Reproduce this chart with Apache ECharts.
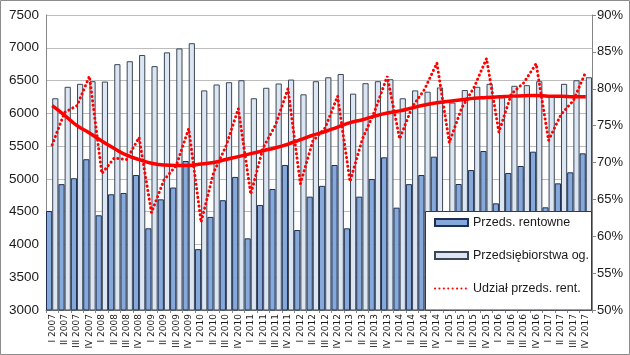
<!DOCTYPE html>
<html>
<head>
<meta charset="utf-8">
<script src="https://cdn.jsdelivr.net/npm/echarts@6/dist/echarts.min.js"></script>
<style>
html,body{margin:0;padding:0;background:#fff;}
#c{width:630px;height:355px;}
</style>
</head>
<body>
<div id="c"></div>
<script>
const categories = [
  "I 2007","II 2007","III 2007","IV 2007",
  "I 2008","II 2008","III 2008","IV 2008",
  "I 2009","II 2009","III 2009","IV 2009",
  "I 2010","II 2010","III 2010","IV 2010",
  "I 2011","II 2011","III 2011","IV 2011",
  "I 2012","II 2012","III 2012","IV 2012",
  "I 2013","II 2013","III 2013","IV 2013",
  "I 2014","II 2014","III 2014","IV 2014",
  "I 2015","II 2015","III 2015","IV 2015",
  "I 2016","II 2016","III 2016","IV 2016",
  "I 2017","II 2017","III 2017","IV 2017"
];
const rentowne = [
  4510,4920,5010,5300,
  4445,4765,4785,5059,
  4246,4688,4868,5273,
  3928,4420,4675,5030,
  4093,4602,4846,5212,
  4220,4729,4894,5212,
  4246,4729,4998,5329,
  4561,4920,5059,5339,
  4482,4922,5135,5425,
  4627,5090,5197,5415,
  4566,4932,5100,5390
];
const ogolem = [
  6230,6405,6450,6490,
  6485,6750,6795,6890,
  6720,6930,6990,7070,
  6350,6440,6475,6505,
  6230,6390,6455,6515,
  6290,6490,6550,6600,
  6300,6460,6490,6520,
  6230,6350,6330,6395,
  6165,6355,6405,6450,
  6245,6420,6430,6490,
  6255,6450,6505,6550
];
const udzial = [
  72.4,76.8,77.7,81.7,
  68.5,70.6,70.4,73.4,
  63.2,67.6,69.6,74.6,
  61.9,68.6,72.2,77.3,
  65.7,72.0,75.1,80.0,
  67.1,72.9,74.7,79.0,
  67.4,73.2,77.0,81.7,
  73.2,77.5,79.9,83.5,
  72.7,77.4,80.2,84.1,
  74.1,79.3,80.8,83.4,
  73.0,76.5,78.4,82.3
];
const trend = [
  77.7,76.4,75.0,74.0,
  72.9,71.9,71.0,70.4,
  69.9,69.65,69.6,69.6,
  69.8,70.0,70.4,70.8,
  71.2,71.6,72.0,72.5,
  73.1,73.7,74.2,74.8,
  75.4,75.8,76.3,76.7,
  77.0,77.4,77.8,78.1,
  78.3,78.5,78.7,78.8,
  78.9,79.0,79.05,79.1,
  79.0,79.0,78.9,78.9
];
const leftTicks = {min:3000, max:7500, interval:500};
const rightTicks = {min:50, max:90, interval:5};

const chart = echarts.init(document.getElementById('c'), null, {renderer:'canvas'});
const axisFont = 'Liberation Sans';
chart.setOption({
  animation:false,
  backgroundColor:'#fff',
  grid:{left:46, right:38, top:15, bottom:45},
  graphic:[
    {type:'rect', z:0, silent:true, shape:{x:0.5,y:0.5,width:629,height:354}, style:{fill:null, stroke:'#8c8c8c', lineWidth:1}},
    {type:'rect', z:100, silent:true, shape:{x:425.5,y:211.5,width:166,height:98.5}, style:{fill:'#fff', stroke:'#3a3a3a', lineWidth:1}}
  ],
  legend:{
    z:200,
    orient:'vertical',
    left:429, top:211,
    itemWidth:33, itemHeight:7, itemGap:20,
    textStyle:{fontFamily:axisFont, fontSize:12.5, color:'#1a1a1a'},
    data:[
      {name:'Przeds. rentowne', icon:'rect'},
      {name:'Przedsiębiorstwa og.', icon:'rect'},
      {name:'Udział przeds. rent.', itemStyle:{opacity:0}}
    ]
  },
  xAxis:{
    type:'category',
    data:categories,
    boundaryGap:true,
    axisLine:{lineStyle:{color:'#868686'}},
    axisTick:{show:true, interval:0, length:3, lineStyle:{color:'#868686'}},
    axisLabel:{interval:0, rotate:90, fontSize:9, fontFamily:'DejaVu Sans', color:'#1a1a1a', margin:4}
  },
  yAxis:[
    {
      type:'value', min:leftTicks.min, max:leftTicks.max, interval:leftTicks.interval,
      axisLine:{show:true, lineStyle:{color:'#868686'}},
      axisTick:{show:false},
      splitLine:{lineStyle:{color:'#bdbdbd'}},
      axisLabel:{fontSize:13.5, fontFamily:axisFont, color:'#1a1a1a', margin:7, formatter:function(v){return String(v);}}
    },
    {
      type:'value', min:rightTicks.min, max:rightTicks.max, interval:rightTicks.interval,
      position:'right',
      axisLine:{show:true, lineStyle:{color:'#868686'}},
      axisTick:{show:true, length:4, inside:false, lineStyle:{color:'#868686'}},
      splitLine:{show:false},
      axisLabel:{fontSize:13, fontFamily:axisFont, color:'#1a1a1a', margin:5, formatter:'{value}%'}
    }
  ],
  series:[
    {
      name:'Przeds. rentowne', type:'bar', data:rentowne,
      barGap:'0%', barCategoryGap:'0%',
      itemStyle:{color:'#86a9dc', borderColor:'#1f2f52', borderWidth:1}
    },
    {
      name:'Przedsiębiorstwa og.', type:'bar', data:ogolem,
      barGap:'0%', barCategoryGap:'0%',
      itemStyle:{color:'#dce6f2', borderColor:'#3c4654', borderWidth:1}
    },
    {
      name:'Udział przeds. rent.', type:'line', yAxisIndex:1, data:udzial,
      symbol:'none', z:5,
      lineStyle:{color:'#ff0000', width:3, type:[0.1,4.3], cap:'round'},
      itemStyle:{color:'#ff0000'}
    },
    {
      name:'trend', type:'line', yAxisIndex:1, data:trend,
      symbol:'none', smooth:true, z:6,
      lineStyle:{color:'#ff0000', width:3.5}
    }
  ]
});
</script>
</body>
</html>
